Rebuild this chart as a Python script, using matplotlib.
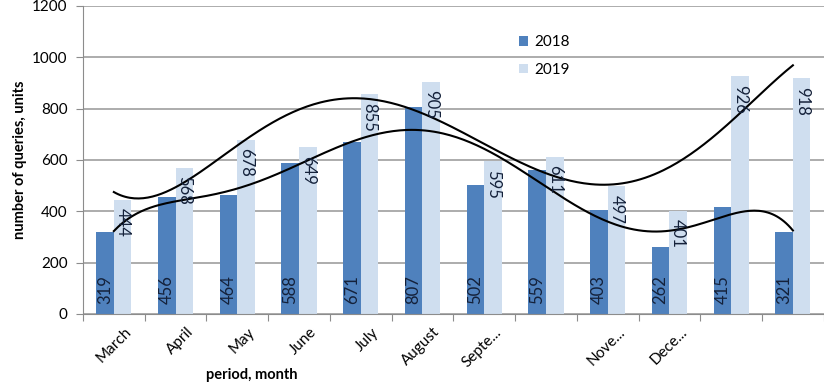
import numpy as np
import matplotlib
matplotlib.use("Agg")
from matplotlib import pyplot as plt

plt.rcParams['font.family'] = ['Lato', 'DejaVu Sans']

# Data.
months = ["March", "April", "May", "June", "July", "August", "Septe...", "",
          "Nove...", "Dece...", "", ""]
q_2018 = [319, 456, 464, 588, 671, 807, 502, 559, 403, 262, 415, 321]
q_2019 = [444, 568, 678, 649, 855, 905, 595, 611, 497, 401, 926, 918]

c2018 = "#4f81bd"
c2019 = "#cfdeef"

fig = plt.figure(figsize=(8.24, 3.89), dpi=100)
ax = fig.add_axes([0.1007, 0.193, 0.899, 0.7918])

x = np.arange(len(months))
w = 0.285
ax.bar(x - w / 2, q_2018, w, color=c2018, label="2018", zorder=2)
ax.bar(x + w / 2, q_2019, w, color=c2019, label="2019", zorder=2)

# Value labels inside the bars.
for i in range(len(x)):
    ax.text(x[i] - w / 2, 40, str(q_2018[i]), rotation=90, ha="center", va="bottom",
            fontsize=12, color="#14213a", zorder=4)
    ax.annotate(str(q_2019[i]), (x[i] + w / 2, q_2019[i]), xytext=(0, -6),
                textcoords="offset points", rotation=-90, ha="center", va="top",
                fontsize=12, color="#14213a", zorder=4)

# Polynomial trend lines.
xs = np.linspace(0, len(x) - 1, 300)
for vals, deg in ((q_2018, 6), (q_2019, 5)):
    p = np.polyfit(x, vals, deg)
    ax.plot(xs, np.polyval(p, xs), color="black", lw=1.5, zorder=3)

ax.set_xlim(-0.5, len(x) - 0.5)
ax.set_ylim(0, 1200)
ax.set_yticks(range(0, 1201, 200))
ax.yaxis.grid(True, color="#a6a6a6", lw=1.3, zorder=0)
ax.set_xticks(np.arange(-0.5, len(x), 1.0))
ax.set_xticklabels([])
# label anchors sit a little right of the category centre, as in the reference
ax.set_xticks(x + 0.17, minor=True)
ax.set_xticklabels(months, minor=True, rotation=45, ha="right", rotation_mode="anchor",
                   fontsize=11)
ax.tick_params(axis="x", which="minor", length=0, pad=8)
ax.tick_params(axis="x", which="major", length=5, color="#8c8c8c", direction="out")
ax.tick_params(axis="y", length=5, color="#8c8c8c", labelsize=11, pad=6)
for s in ["top", "right"]:
    ax.spines[s].set_visible(False)
ax.spines["left"].set_color("#8c8c8c")
ax.spines["bottom"].set_color("#8c8c8c")

ax.set_ylabel("number of queries, units", fontsize=10.5, fontweight="bold")
fig.text(0.305, 0.025, "period, month", fontsize=10.5, fontweight="bold", ha="center")

ax.legend(loc="upper left", bbox_to_anchor=(0.57, 0.95), frameon=False, fontsize=11,
          handlelength=0.6, handleheight=0.6, labelspacing=0.9, handletextpad=0.4)

fig.savefig("out.png", dpi=100)
